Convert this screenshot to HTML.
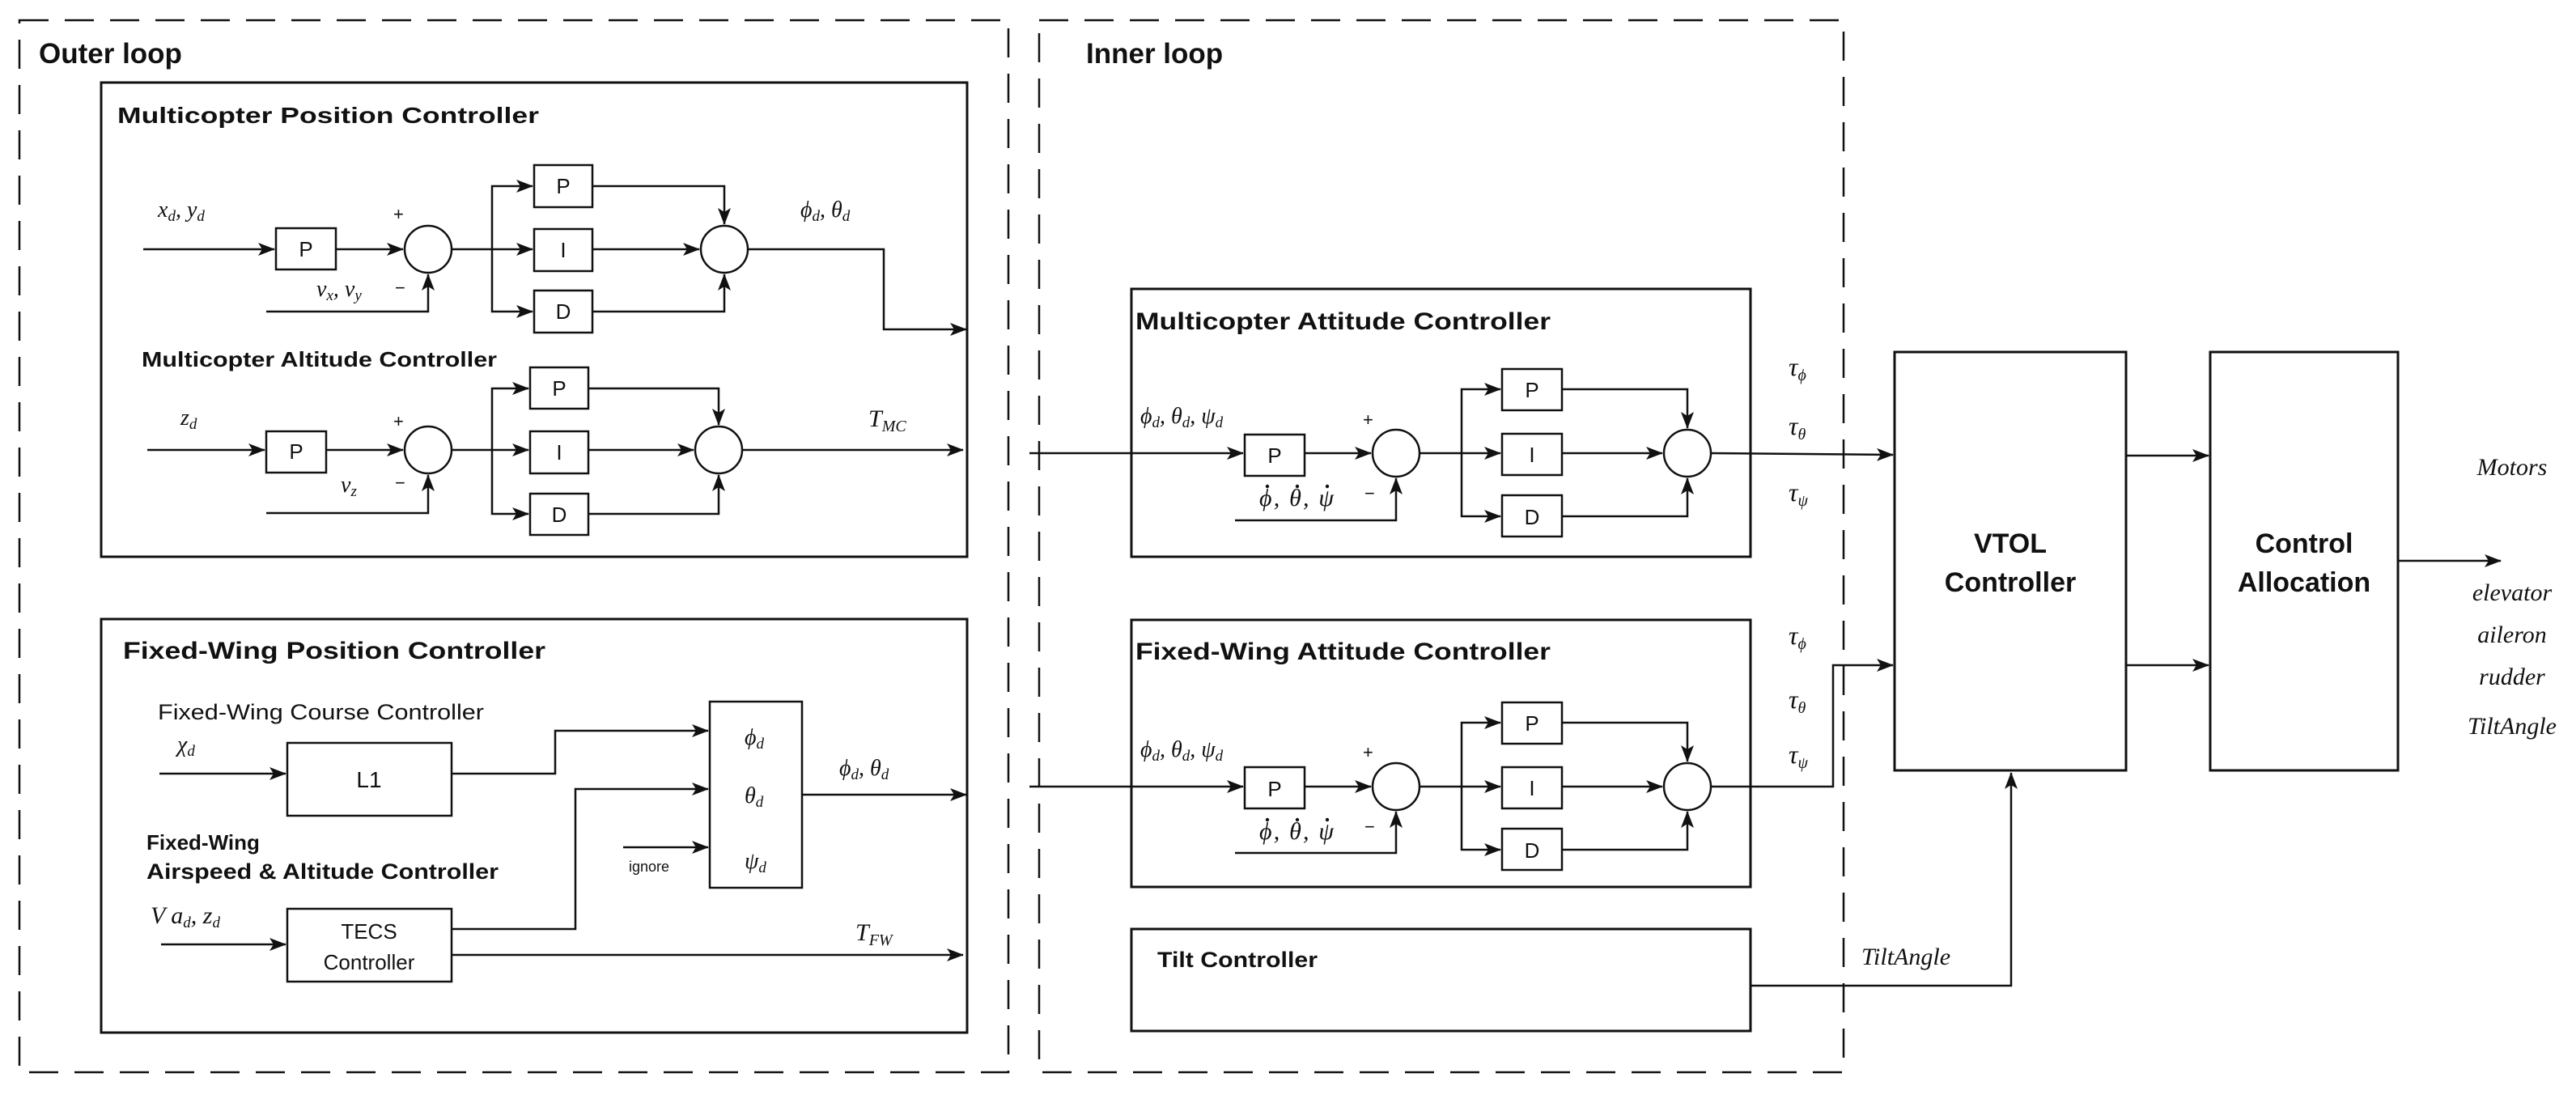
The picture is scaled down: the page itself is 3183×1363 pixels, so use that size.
<!DOCTYPE html>
<html><head><meta charset="utf-8"><style>
html,body{margin:0;padding:0;background:#fff}
svg{display:block}
.t{font-family:"Liberation Sans",sans-serif;font-weight:bold;fill:#111}
.r{font-family:"Liberation Sans",sans-serif;fill:#111}
.m{font-family:"Liberation Serif",serif;font-style:italic;fill:#111}
</style></head><body>
<svg width="3183" height="1363" viewBox="0 0 3183 1363" xmlns="http://www.w3.org/2000/svg">
<defs>
<marker id="a" markerUnits="userSpaceOnUse" markerWidth="22" markerHeight="16" refX="20" refY="8" orient="auto">
<path d="M0,0 L21,8 L0,16 L5,8 z" fill="#111"/>
</marker>
</defs>
<g fill="none" stroke="#111" stroke-width="3">
<rect x="24" y="25" width="1222" height="1300" stroke-dasharray="36,20" stroke-width="2.5"/>
<rect x="1284" y="25" width="994" height="1300" stroke-dasharray="36,20" stroke-width="2.5"/>
<rect x="125" y="102" width="1070" height="586"/>
<rect x="125" y="765" width="1070" height="511"/>
<rect x="1398" y="357" width="765" height="331"/>
<rect x="1398" y="766" width="765" height="330"/>
<rect x="1398" y="1148" width="765" height="126"/>
<rect x="2341" y="435" width="286" height="517"/>
<rect x="2731" y="435" width="232" height="517"/>
</g>
<g fill="none" stroke="#111" stroke-width="2.5">
<rect x="341" y="282" width="74" height="51"/>
<circle cx="529" cy="308" r="29"/>
<rect x="660" y="204" width="72" height="52"/>
<rect x="660" y="283" width="72" height="52"/>
<rect x="660" y="359" width="72" height="52"/>
<circle cx="895" cy="308" r="29"/>
<path d="M177,308 H339" marker-end="url(#a)"/>
<path d="M415,308 H498" marker-end="url(#a)"/>
<path d="M329,385 H529 V339" marker-end="url(#a)"/>
<path d="M558,308 H658" marker-end="url(#a)"/>
<path d="M608,308 V230 H658" marker-end="url(#a)"/>
<path d="M608,308 V385 H658" marker-end="url(#a)"/>
<path d="M732,308 H864" marker-end="url(#a)"/>
<path d="M732,230 H895 V277" marker-end="url(#a)"/>
<path d="M732,385 H895 V339" marker-end="url(#a)"/>
<path d="M924,308 H1092 V407 H1194" marker-end="url(#a)"/>
<rect x="329" y="533" width="74" height="51"/>
<circle cx="529" cy="556" r="29"/>
<rect x="655" y="454" width="72" height="51"/>
<rect x="655" y="533" width="72" height="52"/>
<rect x="655" y="610" width="72" height="51"/>
<circle cx="888" cy="556" r="29"/>
<path d="M182,556 H327" marker-end="url(#a)"/>
<path d="M403,556 H498" marker-end="url(#a)"/>
<path d="M329,634 H529 V587" marker-end="url(#a)"/>
<path d="M558,556 H653" marker-end="url(#a)"/>
<path d="M608,556 V480 H653" marker-end="url(#a)"/>
<path d="M608,556 V635 H653" marker-end="url(#a)"/>
<path d="M727,556 H857" marker-end="url(#a)"/>
<path d="M727,480 H888 V525" marker-end="url(#a)"/>
<path d="M727,635 H888 V587" marker-end="url(#a)"/>
<path d="M917,556 H1190" marker-end="url(#a)"/>
<rect x="355" y="918" width="203" height="90"/>
<rect x="877" y="867" width="114" height="230"/>
<rect x="355" y="1123" width="203" height="90"/>
<path d="M197,956 H353" marker-end="url(#a)"/>
<path d="M558,956 H686 V903 H875" marker-end="url(#a)"/>
<path d="M558,1148 H711 V975 H875" marker-end="url(#a)"/>
<path d="M770,1047 H875" marker-end="url(#a)"/>
<path d="M991,982 H1194" marker-end="url(#a)"/>
<path d="M199,1167 H353" marker-end="url(#a)"/>
<path d="M558,1180 H1190" marker-end="url(#a)"/>
<rect x="1538" y="537" width="74" height="51"/>
<circle cx="1725" cy="560" r="29"/>
<rect x="1856" y="456" width="74" height="51"/>
<rect x="1856" y="536" width="74" height="51"/>
<rect x="1856" y="612" width="74" height="51"/>
<circle cx="2085" cy="560" r="29"/>
<path d="M1272,560 H1536" marker-end="url(#a)"/>
<path d="M1612,560 H1694" marker-end="url(#a)"/>
<path d="M1526,643 H1725 V591" marker-end="url(#a)"/>
<path d="M1754,560 H1854" marker-end="url(#a)"/>
<path d="M1806,560 V481 H1854" marker-end="url(#a)"/>
<path d="M1806,560 V638 H1854" marker-end="url(#a)"/>
<path d="M1930,560 H2054" marker-end="url(#a)"/>
<path d="M1930,481 H2085 V529" marker-end="url(#a)"/>
<path d="M1930,638 H2085 V591" marker-end="url(#a)"/>
<path d="M2114,560 L2339,562" marker-end="url(#a)"/>
<rect x="1538" y="948" width="74" height="51"/>
<circle cx="1725" cy="972" r="29"/>
<rect x="1856" y="868" width="74" height="51"/>
<rect x="1856" y="948" width="74" height="51"/>
<rect x="1856" y="1024" width="74" height="51"/>
<circle cx="2085" cy="972" r="29"/>
<path d="M1272,972 H1536" marker-end="url(#a)"/>
<path d="M1612,972 H1694" marker-end="url(#a)"/>
<path d="M1526,1054 H1725 V1003" marker-end="url(#a)"/>
<path d="M1754,972 H1854" marker-end="url(#a)"/>
<path d="M1806,972 V893 H1854" marker-end="url(#a)"/>
<path d="M1806,972 V1050 H1854" marker-end="url(#a)"/>
<path d="M1930,972 H2054" marker-end="url(#a)"/>
<path d="M1930,893 H2085 V941" marker-end="url(#a)"/>
<path d="M1930,1050 H2085 V1003" marker-end="url(#a)"/>
<path d="M2114,972 H2265 V822 H2339" marker-end="url(#a)"/>
<path d="M2163,1218 H2485 V955" marker-end="url(#a)"/>
<path d="M2627,563 H2729" marker-end="url(#a)"/>
<path d="M2627,822 H2729" marker-end="url(#a)"/>
<path d="M2963,693 H3090" marker-end="url(#a)"/>
</g>
<text class="t" x="48" y="78" font-size="35">Outer loop</text>
<text class="t" x="1342" y="78" font-size="35">Inner loop</text>
<text class="t" x="145" y="152" font-size="28" textLength="521" lengthAdjust="spacingAndGlyphs">Multicopter Position Controller</text>
<text class="t" x="175" y="453" font-size="26" textLength="439" lengthAdjust="spacingAndGlyphs">Multicopter Altitude Controller</text>
<text class="t" x="152" y="814" font-size="30" textLength="522" lengthAdjust="spacingAndGlyphs">Fixed-Wing Position Controller</text>
<text class="r" x="195" y="889" font-size="27" textLength="403" lengthAdjust="spacingAndGlyphs">Fixed-Wing Course Controller</text>
<text class="t" x="181" y="1050" font-size="26">Fixed-Wing</text>
<text class="t" x="181" y="1086" font-size="27" textLength="435" lengthAdjust="spacingAndGlyphs">Airspeed &amp; Altitude Controller</text>
<text class="t" x="1403" y="407" font-size="30" textLength="513" lengthAdjust="spacingAndGlyphs">Multicopter Attitude Controller</text>
<text class="t" x="1403" y="815" font-size="30" textLength="513" lengthAdjust="spacingAndGlyphs">Fixed-Wing Attitude Controller</text>
<text class="t" x="1430" y="1195" font-size="27" textLength="198" lengthAdjust="spacingAndGlyphs">Tilt Controller</text>
<g class="t" font-size="34" text-anchor="middle">
<text x="2484" y="683">VTOL</text><text x="2484" y="731">Controller</text>
<text x="2847" y="683">Control</text><text x="2847" y="731">Allocation</text>
</g>
<g class="r" font-size="26" text-anchor="middle">
<text x="378" y="317">P</text>
<text x="696" y="239">P</text><text x="696" y="318">I</text><text x="696" y="394">D</text>
<text x="366" y="567">P</text>
<text x="691" y="489">P</text><text x="691" y="568">I</text><text x="691" y="645">D</text>
<text x="456" y="973" font-size="28">L1</text>
<text x="456" y="1160" font-size="26">TECS</text>
<text x="456" y="1198" font-size="26">Controller</text>
<text x="1575" y="572">P</text>
<text x="1893" y="491">P</text><text x="1893" y="571">I</text><text x="1893" y="648">D</text>
<text x="1575" y="984">P</text>
<text x="1893" y="903">P</text><text x="1893" y="983">I</text><text x="1893" y="1060">D</text>
<text x="802" y="1077" font-size="18">ignore</text>
</g>
<g class="r" font-size="22" fill="#444">
<text x="486" y="272">+</text><text x="488" y="363">−</text>
<text x="486" y="528">+</text><text x="488" y="604">−</text>
<text x="1684" y="526">+</text><text x="1686" y="617">−</text>
<text x="1684" y="937">+</text><text x="1686" y="1029">−</text>
</g>
<g class="m" font-size="28">
<text x="195" y="268">x<tspan font-size="19" dy="5">d</tspan><tspan dy="-5">, y</tspan><tspan font-size="19" dy="5">d</tspan></text>
<text x="391" y="366">v<tspan font-size="19" dy="5">x</tspan><tspan dy="-5">, v</tspan><tspan font-size="19" dy="5">y</tspan></text>
<text x="989" y="268">ϕ<tspan font-size="19" dy="5">d</tspan><tspan dy="-5">, θ</tspan><tspan font-size="19" dy="5">d</tspan></text>
<text x="223" y="525">z<tspan font-size="19" dy="5">d</tspan></text>
<text x="421" y="608">v<tspan font-size="19" dy="5">z</tspan></text>
<text x="1073" y="527" font-size="30">T<tspan font-size="20" dy="6">MC</tspan></text>
<text x="219" y="929">χ<tspan font-size="19" dy="5">d</tspan></text>
<text x="920" y="920">ϕ<tspan font-size="19" dy="5">d</tspan></text>
<text x="920" y="992">θ<tspan font-size="19" dy="5">d</tspan></text>
<text x="920" y="1073">ψ<tspan font-size="19" dy="5">d</tspan></text>
<text x="1037" y="958">ϕ<tspan font-size="19" dy="5">d</tspan><tspan dy="-5">, θ</tspan><tspan font-size="19" dy="5">d</tspan></text>
<text x="186" y="1141" font-size="30">V a<tspan font-size="19" dy="5">d</tspan><tspan dy="-5">, z</tspan><tspan font-size="19" dy="5">d</tspan></text>
<text x="1057" y="1162" font-size="30">T<tspan font-size="20" dy="6">FW</tspan></text>
<text x="1409" y="523">ϕ<tspan font-size="19" dy="5">d</tspan><tspan dy="-5">, θ</tspan><tspan font-size="19" dy="5">d</tspan><tspan dy="-5">, ψ</tspan><tspan font-size="19" dy="5">d</tspan></text>
<text x="1556" y="625" font-size="30" textLength="92" lengthAdjust="spacing">ϕ, θ, ψ</text>
<text x="1409" y="935">ϕ<tspan font-size="19" dy="5">d</tspan><tspan dy="-5">, θ</tspan><tspan font-size="19" dy="5">d</tspan><tspan dy="-5">, ψ</tspan><tspan font-size="19" dy="5">d</tspan></text>
<text x="1556" y="1037" font-size="30" textLength="92" lengthAdjust="spacing">ϕ, θ, ψ</text>
<g font-size="32">
<text x="2210" y="464">τ<tspan font-size="20" dy="6">ϕ</tspan></text>
<text x="2210" y="537">τ<tspan font-size="20" dy="6">θ</tspan></text>
<text x="2210" y="619">τ<tspan font-size="20" dy="6">ψ</tspan></text>
<text x="2210" y="796">τ<tspan font-size="20" dy="6">ϕ</tspan></text>
<text x="2210" y="875">τ<tspan font-size="20" dy="6">θ</tspan></text>
<text x="2210" y="943">τ<tspan font-size="20" dy="6">ψ</tspan></text>
</g>
<text x="2300" y="1192" font-size="30">TiltAngle</text>
<g font-size="30" text-anchor="middle">
<text x="3104" y="587">Motors</text>
<text x="3104" y="742">elevator</text>
<text x="3104" y="794">aileron</text>
<text x="3104" y="846">rudder</text>
<text x="3104" y="907">TiltAngle</text>
</g>
</g>
<g fill="#111">
<circle cx="1566" cy="601" r="2.2"/><circle cx="1603" cy="601" r="2.2"/><circle cx="1640" cy="601" r="2.2"/>
<circle cx="1566" cy="1013" r="2.2"/><circle cx="1603" cy="1013" r="2.2"/><circle cx="1640" cy="1013" r="2.2"/>
</g>
</svg>
</body></html>
